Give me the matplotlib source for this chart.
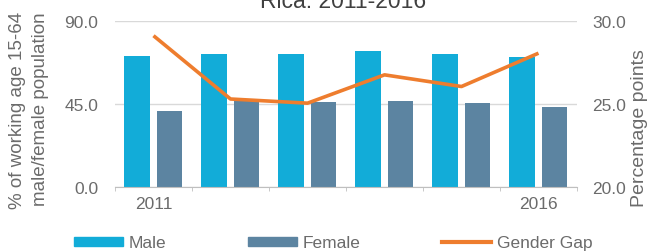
import matplotlib
matplotlib.use("Agg")
import matplotlib.pyplot as plt
import numpy as np
from matplotlib.patches import Patch
from matplotlib.lines import Line2D

plt.rcParams['font.family'] = ['Liberation Sans', 'DejaVu Sans']

years = ["2011", "2012", "2013", "2014", "2015", "2016"]
year_labels = ["2011", "", "", "", "", "2016"]
male = [70.8, 72.0, 72.0, 73.5, 72.0, 70.2]
female = [41.4, 46.5, 46.0, 46.8, 45.5, 43.2]
gender_gap = [29.1, 25.3, 25.05, 26.75, 26.05, 28.05]

c_male = "#12ACD8"
c_female = "#5C84A1"
c_gap = "#EE7D2E"
c_text = "#6B6B6B"
c_grid = "#D9D9D9"

fig = plt.figure(figsize=(6.52, 2.53), dpi=100)
ax = fig.add_axes([115/652, 1-188.3/253, (577-115)/652, (188.3-21.7)/253])
ax2 = ax.twinx()

x = np.arange(len(years))
w = 0.33
ax.bar(x - 0.215, male, width=w, color=c_male, zorder=2)
ax.bar(x + 0.205, female, width=w, color=c_female, zorder=2)
ax2.plot(x, gender_gap, color=c_gap, lw=2.6, zorder=3, solid_capstyle='butt')

ax.set_xlim(-0.5, len(years) - 0.5)
ax.set_ylim(0, 90)
ax2.set_ylim(20, 30)
ax.set_yticks([0, 45, 90])
ax.set_yticklabels(["0.0", "45.0", "90.0"])
ax2.set_yticks([20, 25, 30])
ax2.set_yticklabels(["20.0", "25.0", "30.0"])

ax.grid(axis='y', color=c_grid, lw=1, zorder=0)
ax.set_axisbelow(True)
ax2.set_zorder(ax.get_zorder() + 1)
ax2.patch.set_visible(False)

for a in (ax, ax2):
    for s in ("top", "left", "right"):
        a.spines[s].set_visible(False)
ax2.spines["bottom"].set_visible(False)
ax.spines["bottom"].set_color("#BFBFBF")

fs = 12.5
ax.set_xticks(x)
ax.set_xticklabels(year_labels)
ax.set_xticks(np.arange(-0.5, len(years), 1.0), minor=True)
ax.tick_params(axis='x', which='major', length=0, pad=6, labelsize=fs, labelcolor=c_text)
ax.tick_params(axis='x', which='minor', length=3, color="#BFBFBF", direction='out')
ax.tick_params(axis='y', length=0, pad=12, labelsize=fs, labelcolor=c_text)
ax2.tick_params(axis='y', length=0, pad=11, labelsize=fs, labelcolor=c_text)

fig.text(29/652, 1-12/253, "% of working age 15-64\nmale/female population", rotation=90,
         ha='center', va='top', multialignment='right', fontsize=13.5,
         color=c_text, linespacing=1.45)
fig.text(640/652, 1-128/253, "Percentage points", rotation=90,
         ha='center', va='center', fontsize=14, color=c_text)

fig.text(343/652, 1-8/253, "Rica: 2011-2016", ha='center', va='baseline',
         fontsize=16.5, color="#404040")

handles = [Patch(color=c_male), Patch(color=c_female),
           Line2D([0], [0], color=c_gap, lw=3)]
leg = fig.legend(handles, ["Male", "Female", "Gender Gap"], ncol=3,
                 loc='center', bbox_to_anchor=(333/652, 1-244/253),
                 frameon=False, handlelength=2.85, handleheight=0.46,
                 handletextpad=0.3, columnspacing=4.7, fontsize=fs,
                 borderpad=0, borderaxespad=0)
for t in leg.get_texts():
    t.set_color(c_text)

fig.savefig("out.png", dpi=100)
